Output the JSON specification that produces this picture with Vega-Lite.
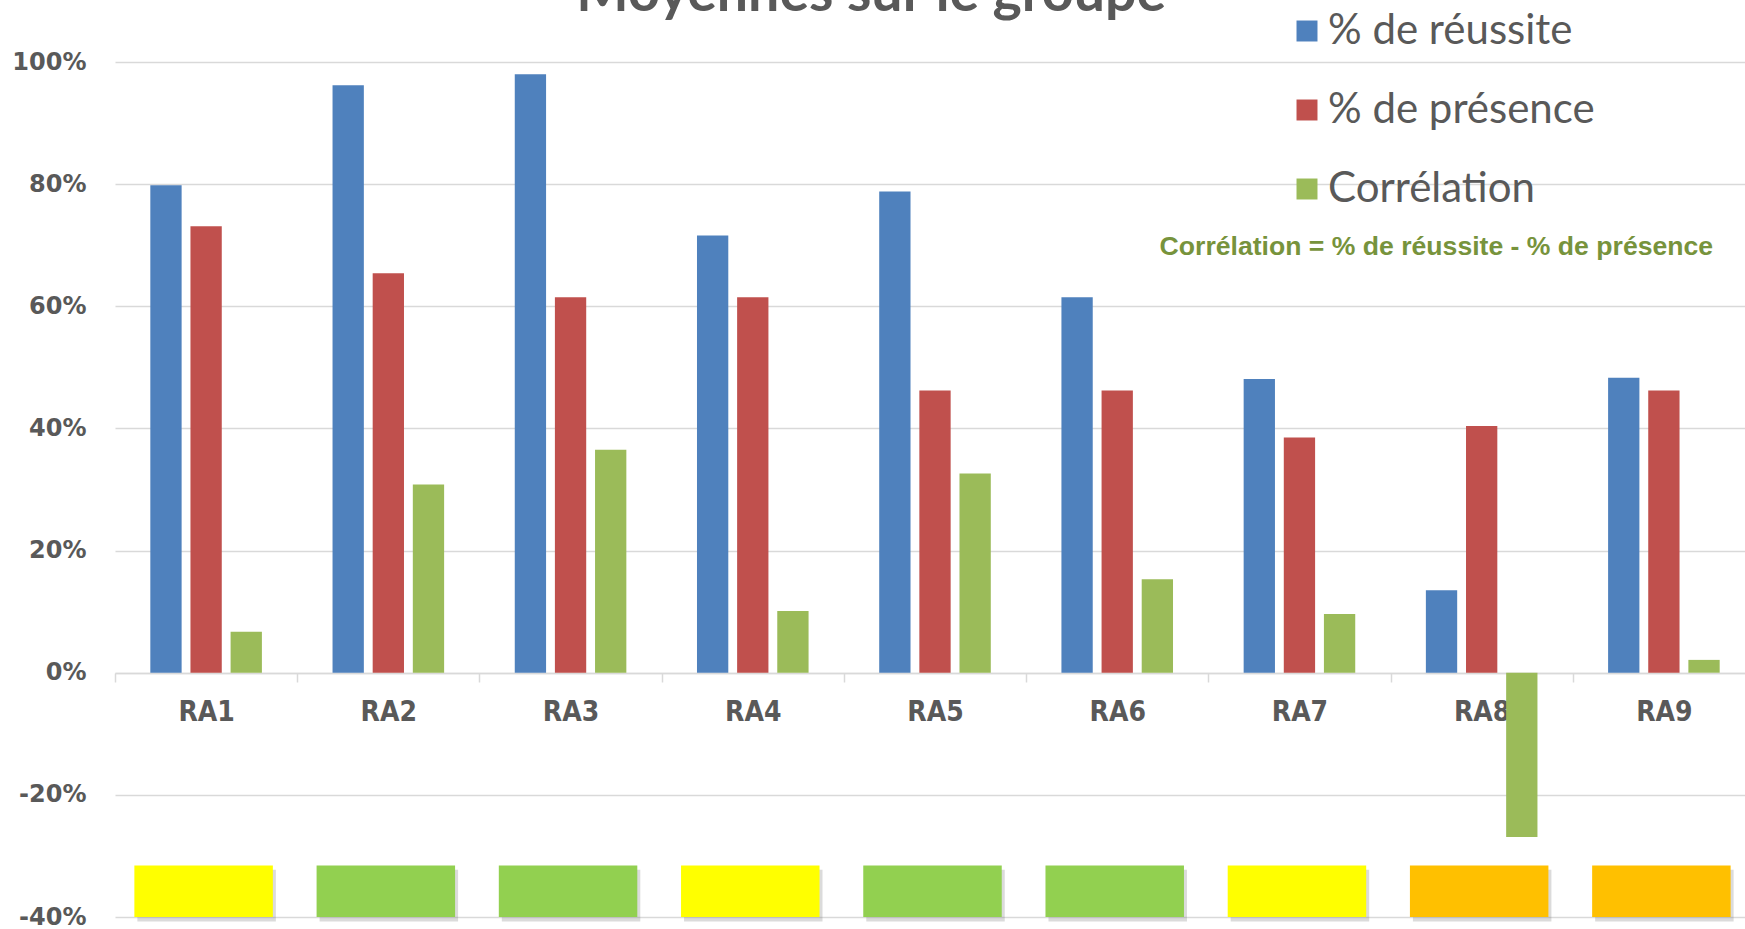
{
  "$schema": "https://vega.github.io/schema/vega-lite/v6.json",
  "width": 1630,
  "height": 855,
  "autosize": {"type": "none"},
  "padding": {"left": 115, "top": 62, "right": 0, "bottom": 12},
  "background": "white",
  "config": {"view": {"stroke": null}},
  "datasets": {
    "bars": [
      {"ra": "RA1", "serie": "% de réussite", "valeur": 0.798},
      {"ra": "RA1", "serie": "% de présence", "valeur": 0.731},
      {"ra": "RA1", "serie": "Corrélation", "valeur": 0.067},
      {"ra": "RA2", "serie": "% de réussite", "valeur": 0.962},
      {"ra": "RA2", "serie": "% de présence", "valeur": 0.654},
      {"ra": "RA2", "serie": "Corrélation", "valeur": 0.308},
      {"ra": "RA3", "serie": "% de réussite", "valeur": 0.980},
      {"ra": "RA3", "serie": "% de présence", "valeur": 0.615},
      {"ra": "RA3", "serie": "Corrélation", "valeur": 0.365},
      {"ra": "RA4", "serie": "% de réussite", "valeur": 0.716},
      {"ra": "RA4", "serie": "% de présence", "valeur": 0.615},
      {"ra": "RA4", "serie": "Corrélation", "valeur": 0.101},
      {"ra": "RA5", "serie": "% de réussite", "valeur": 0.788},
      {"ra": "RA5", "serie": "% de présence", "valeur": 0.462},
      {"ra": "RA5", "serie": "Corrélation", "valeur": 0.326},
      {"ra": "RA6", "serie": "% de réussite", "valeur": 0.615},
      {"ra": "RA6", "serie": "% de présence", "valeur": 0.462},
      {"ra": "RA6", "serie": "Corrélation", "valeur": 0.153},
      {"ra": "RA7", "serie": "% de réussite", "valeur": 0.481},
      {"ra": "RA7", "serie": "% de présence", "valeur": 0.385},
      {"ra": "RA7", "serie": "Corrélation", "valeur": 0.096},
      {"ra": "RA8", "serie": "% de réussite", "valeur": 0.135},
      {"ra": "RA8", "serie": "% de présence", "valeur": 0.404},
      {"ra": "RA8", "serie": "Corrélation", "valeur": -0.269},
      {"ra": "RA9", "serie": "% de réussite", "valeur": 0.483},
      {"ra": "RA9", "serie": "% de présence", "valeur": 0.462},
      {"ra": "RA9", "serie": "Corrélation", "valeur": 0.021}
    ],
    "statut": [
      {"ra": "RA1", "niveau": "moyen"},
      {"ra": "RA2", "niveau": "bon"},
      {"ra": "RA3", "niveau": "bon"},
      {"ra": "RA4", "niveau": "moyen"},
      {"ra": "RA5", "niveau": "bon"},
      {"ra": "RA6", "niveau": "bon"},
      {"ra": "RA7", "niveau": "moyen"},
      {"ra": "RA8", "niveau": "faible"},
      {"ra": "RA9", "niveau": "faible"}
    ]
  },
  "layer": [
    {
      "data": {"name": "bars"},
      "mark": {"type": "bar"},
      "encoding": {
        "x": {
          "field": "ra",
          "type": "nominal",
          "sort": null,
          "scale": {"range": [0, 1640], "paddingInner": 0, "paddingOuter": 0},
          "axis": {
            "title": null,
            "offset": -244,
            "labelAngle": 0,
            "labelFont": "DejaVu Sans Condensed, Liberation Sans",
            "labelFontSize": 28,
            "labelFontWeight": "bold",
            "labelColor": "#595959",
            "labelPadding": 16,
            "domainColor": "#D9D9D9",
            "domainWidth": 1.5,
            "ticks": true,
            "tickBand": "extent",
            "tickColor": "#D9D9D9",
            "tickWidth": 1.5,
            "tickSize": 9
          }
        },
        "xOffset": {
          "field": "serie",
          "type": "nominal",
          "scale": {
            "domain": ["% de réussite", "% de présence", "Corrélation"],
            "paddingInner": 0.22,
            "paddingOuter": 0.88
          }
        },
        "y": {
          "field": "valeur",
          "type": "quantitative",
          "scale": {"domain": [-0.4, 1], "nice": false, "zero": true},
          "axis": {
            "title": null,
            "values": [-0.4, -0.2, 0, 0.2, 0.4, 0.6, 0.8, 1],
            "format": ".0%",
            "labelExpr": "replace(datum.label, '−', '-')",
            "labelFont": "DejaVu Sans",
            "labelFontSize": 24,
            "labelFontWeight": "bold",
            "labelColor": "#595959",
            "labelPadding": 29,
            "domain": false,
            "ticks": false,
            "grid": true,
            "gridColor": "#D9D9D9",
            "gridWidth": 1.5
          }
        },
        "color": {
          "field": "serie",
          "type": "nominal",
          "scale": {
            "domain": ["% de réussite", "% de présence", "Corrélation"],
            "range": ["#4F81BD", "#C0504D", "#9BBB59"]
          },
          "legend": {
            "title": null,
            "orient": "none",
            "legendX": 1171,
            "legendY": -52,
            "direction": "vertical",
            "symbolType": "square",
            "symbolSize": 440,
            "symbolStrokeWidth": 0,
            "labelFont": "Lato",
            "labelFontSize": 42,
            "labelColor": "#595959",
            "labelLimit": 600,
            "labelOffset": 0,
            "rowPadding": 37
          }
        }
      }
    },
    {
      "data": {"name": "statut"},
      "mark": {"type": "bar", "width": {"band": 0.76}, "clip": false, "color": "#7F7F7F", "opacity": 0.28},
      "encoding": {
        "x": {"field": "ra", "type": "nominal", "sort": null},
        "xOffset": {"value": 0.5},
        "y": {"datum": -0.3225},
        "y2": {"datum": -0.4075}
      }
    },
    {
      "data": {"name": "statut"},
      "mark": {"type": "bar", "width": {"band": 0.76}, "clip": false},
      "encoding": {
        "x": {"field": "ra", "type": "nominal", "sort": null},
        "xOffset": {"value": -2.5},
        "y": {"datum": -0.3155},
        "y2": {"datum": -0.4},
        "fill": {
          "field": "niveau",
          "type": "nominal",
          "scale": {"domain": ["moyen", "bon", "faible"], "range": ["#FFFF00", "#92D050", "#FFC000"]},
          "legend": null
        }
      }
    },
    {
      "data": {"values": [{}]},
      "mark": {
        "type": "text",
        "font": "Liberation Sans",
        "fontSize": 26.6,
        "fontWeight": "bold",
        "color": "#77933C",
        "align": "right",
        "baseline": "middle"
      },
      "encoding": {
        "x": {"datum": "RA9", "type": "nominal", "bandPosition": 0.77},
        "y": {"datum": 0.697},
        "text": {"value": "Corrélation = % de réussite - % de présence"}
      }
    },
    {
      "data": {"values": [{}]},
      "mark": {
        "type": "text",
        "font": "Lato",
        "fontSize": 55.5,
        "fontWeight": "bold",
        "color": "#595959",
        "align": "center",
        "baseline": "alphabetic",
        "clip": false
      },
      "encoding": {
        "x": {"datum": "RA5", "type": "nominal", "bandPosition": 0.15},
        "y": {"datum": 1.0843},
        "text": {"value": "Moyennes sur le groupe"}
      }
    }
  ]
}
